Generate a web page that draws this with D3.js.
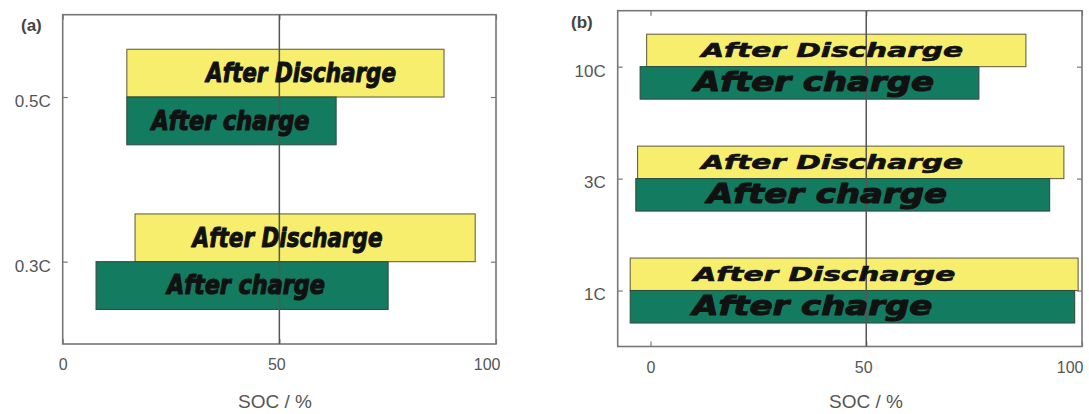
<!DOCTYPE html>
<html>
<head>
<meta charset="utf-8">
<script src="https://cdn.jsdelivr.net/npm/d3@7/dist/d3.min.js"></script>
<style>
  html, body { margin: 0; padding: 0; background: #fff; }
  svg { display: block; }
</style>
</head>
<body>
<svg id="chart" width="1089" height="414"></svg>
<script>
// ---------- data ----------
const seriesLabels = ["After Discharge", "After charge"];
const xTicks = [0, 50, 100];
const xTitle = "SOC / %";

// Panel (a)
const catsA = ["0.5C", "0.3C"];
const dischargeStartA = [14.8, 16.7];
const dischargeEndA   = [88.0, 95.2];
const chargeStartA    = [14.8, 7.7];
const chargeEndA      = [63.1, 75.1];
const dischargeLabelAtA = [55.0, 51.9];
const chargeLabelAtA    = [38.7, 42.3];

// Panel (b)
const catsB = ["10C", "3C", "1C"];
const dischargeStartB = [-0.9, -3.0, -4.7];
const dischargeEndB   = [87.0, 95.8, 99.1];
const chargeStartB    = [-2.4, -3.4, -4.7];
const chargeEndB      = [76.1, 92.5, 98.3];
const dischargeLabelAtB = [42.1, 42.1, 40.3];
const chargeLabelAtB    = [37.9, 40.9, 37.5];

// ---------- drawing ----------
const svg = d3.select("#chart");
const YELLOW = "#f6ee6c", GREEN = "#137b60";

function drawPanel(p) {
  const g = svg.append("g");
  const x = d3.scaleLinear().domain(p.xDomain).range([p.left, p.right]);
  const y = d3.scalePoint().domain(p.cats).range([p.top, p.bottom]).padding(0.5);
  const bh = y.step() * 0.29;

  // frame
  g.append("rect").attr("x", p.left).attr("y", p.top)
    .attr("width", p.right - p.left).attr("height", p.bottom - p.top)
    .attr("fill", "none").attr("stroke", "#777").attr("stroke-width", 1.6);

  // y axis (left, inward ticks)
  const yl = g.append("g").attr("transform", `translate(${p.left},0)`)
    .call(d3.axisLeft(y).tickSizeInner(-5).tickSizeOuter(0).tickPadding(12));
  yl.select(".domain").remove();
  yl.selectAll("line").attr("stroke", "#777").attr("stroke-width", 1.2);
  yl.selectAll("text").attr("font-family", "Liberation Sans, Arial, sans-serif")
    .attr("font-size", 17).attr("fill", "#555").attr("dy", "0.55em");
  // right ticks
  const yr = g.append("g").attr("transform", `translate(${p.right},0)`)
    .call(d3.axisRight(y).tickSizeInner(-5).tickSizeOuter(0).tickFormat(""));
  yr.select(".domain").remove();
  yr.selectAll("line").attr("stroke", "#777").attr("stroke-width", 1.2);

  // x axis bottom
  const xb = g.append("g").attr("transform", `translate(0,${p.bottom})`)
    .call(d3.axisBottom(x).tickValues(xTicks).tickSizeInner(-5).tickSizeOuter(0).tickPadding(12));
  xb.select(".domain").remove();
  xb.selectAll("line").attr("stroke", "#777").attr("stroke-width", 1.2);
  xb.selectAll("text").attr("font-family", "Liberation Sans, Arial, sans-serif")
    .attr("font-size", 16).attr("fill", "#555").attr("dy", "0.9em")
    .attr("text-anchor", (d, i, n) => i === n.length - 1 ? "end" : "middle")
    .attr("dx", (d, i, n) => i === n.length - 1 ? p.lastDx : (i === 0 ? 0 : -3));
  const xt = g.append("g").attr("transform", `translate(0,${p.top})`)
    .call(d3.axisTop(x).tickValues(xTicks).tickSizeInner(-5).tickSizeOuter(0).tickFormat(""));
  xt.select(".domain").remove();
  xt.selectAll("line").attr("stroke", "#777").attr("stroke-width", 1.2);

  // axis title
  g.append("text").attr("x", p.titleX).attr("y", 408)
    .attr("text-anchor", "middle").attr("font-family", "Liberation Sans, Arial, sans-serif")
    .attr("font-size", 19).attr("fill", "#555").text(xTitle);

  // panel tag
  g.append("text").attr("x", p.tagX).attr("y", p.tagY)
    .attr("font-family", "Liberation Sans, Arial, sans-serif").attr("font-weight", "bold")
    .attr("font-size", 17).attr("fill", "#444").text(p.tag);

  const rows = p.cats.map((c, i) => ({
    c, ds: p.ds[i], de: p.de[i], cs: p.cs[i], ce: p.ce[i], dl: p.dl[i], cl: p.cl[i]
  }));

  // discharge bars (above tick)
  g.selectAll(".dbar").data(rows).join("rect").attr("class", "dbar")
    .attr("x", d => x(d.ds)).attr("y", d => y(d.c) - bh)
    .attr("width", d => x(d.de) - x(d.ds)).attr("height", bh)
    .attr("fill", YELLOW).attr("stroke", "#6a6540").attr("stroke-width", 1.1);
  // charge bars (below tick)
  g.selectAll(".cbar").data(rows).join("rect").attr("class", "cbar")
    .attr("x", d => x(d.cs)).attr("y", d => y(d.c))
    .attr("width", d => x(d.ce) - x(d.cs)).attr("height", bh)
    .attr("fill", GREEN).attr("stroke", "#2f4f40").attr("stroke-width", 1.1);

  // midline at 50 (drawn over bars)
  g.append("line").attr("x1", x(50)).attr("x2", x(50))
    .attr("y1", p.top).attr("y2", p.bottom)
    .attr("stroke", "#555").attr("stroke-width", 1.5);

  // bar labels
  g.selectAll(".dlab").data(rows).join("text").attr("class", "dlab")
    .attr("x", d => x(d.dl)).attr("y", d => y(d.c) - bh / 2 + p.dSize * 0.33)
    .attr("text-anchor", "middle")
    .attr("font-family", p.font).attr("font-weight", "bold").attr("font-style", "italic")
    .attr("font-size", p.dSize).attr("textLength", p.dLen).attr("lengthAdjust", "spacingAndGlyphs")
    .attr("fill", "#111").attr("stroke", "#111").attr("stroke-width", p.sw)
    .attr("stroke-linejoin", "round")
    .text(seriesLabels[0]);
  g.selectAll(".clab").data(rows).join("text").attr("class", "clab")
    .attr("x", d => x(d.cl)).attr("y", d => y(d.c) + bh / 2 + p.cSize * 0.33)
    .attr("text-anchor", "middle")
    .attr("font-family", p.font).attr("font-weight", "bold").attr("font-style", "italic")
    .attr("font-size", p.cSize).attr("textLength", p.cLen).attr("lengthAdjust", "spacingAndGlyphs")
    .attr("fill", "#111").attr("stroke", "#111").attr("stroke-width", p.swC)
    .attr("stroke-linejoin", "round")
    .text(seriesLabels[1]);
}

drawPanel({
  tag: "(a)", tagX: 21, tagY: 31,
  cats: catsA, ds: dischargeStartA, de: dischargeEndA, cs: chargeStartA, ce: chargeEndA,
  dl: dischargeLabelAtA, cl: chargeLabelAtA,
  xDomain: [0, 100], left: 62.7, right: 496, top: 14.7, bottom: 344, titleX: 275,
  font: "Liberation Sans Narrow, DejaVu Sans Condensed, sans-serif",
  dSize: 27, cSize: 27, dLen: 190, cLen: 158, sw: 1.0, swC: 1.2, lastDx: 4
});

drawPanel({
  tag: "(b)", tagX: 571, tagY: 28,
  cats: catsB, ds: dischargeStartB, de: dischargeEndB, cs: chargeStartB, ce: chargeEndB,
  dl: dischargeLabelAtB, cl: chargeLabelAtB,
  xDomain: [-7.6, 100], left: 617.7, right: 1082, top: 10.7, bottom: 346.5, titleX: 866,
  font: "DejaVu Sans, sans-serif",
  dSize: 19, cSize: 26, dLen: 262, cLen: 240, sw: 0.6, swC: 1.1, lastDx: 1
});
</script>
</body>
</html>
